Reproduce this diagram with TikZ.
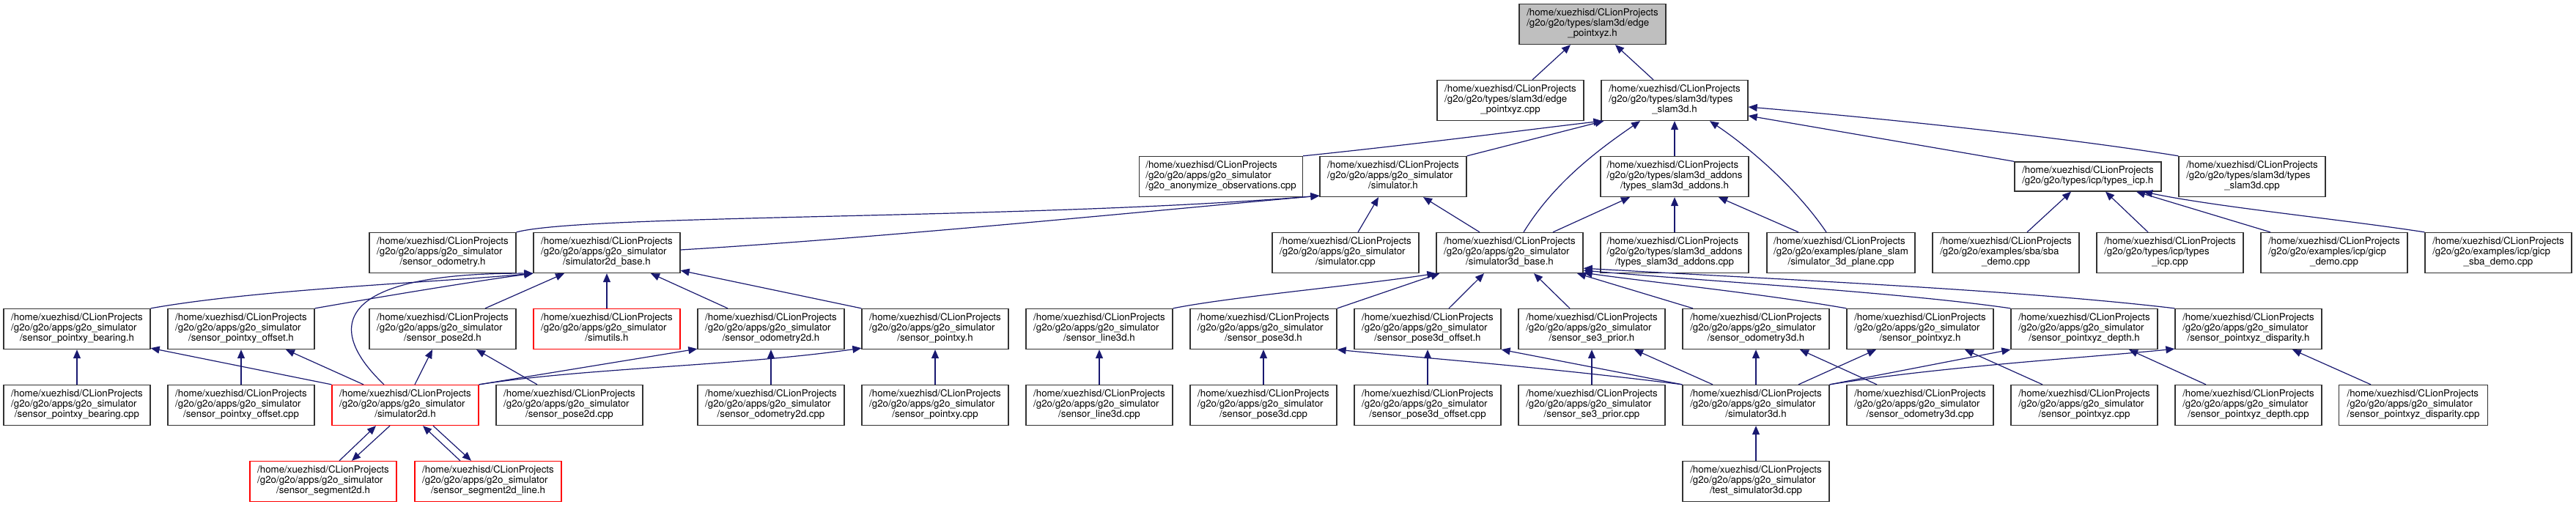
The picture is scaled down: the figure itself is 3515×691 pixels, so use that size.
\documentclass[tikz,border=0pt]{standalone}
\usepackage{fontspec}
\setmainfont{TeX Gyre Heros}
\usetikzlibrary{arrows.meta}
\definecolor{edgecol}{HTML}{191970}
\definecolor{bordercol}{HTML}{333333}
\definecolor{topfill}{HTML}{BFBFBF}
\definecolor{redb}{HTML}{FF0000}
\newcommand{\hmp}{/home/xuezhisd/CLionProjects}
\newcommand{\gsim}{/g2o/g2o/apps/g2o\_simulator}
\newcommand{\threel}[3]{\begin{tabular}{@{}l@{}}#1\\#2\\\multicolumn{1}{@{}c@{}}{#3}\end{tabular}}
\newcommand{\twol}[2]{\begin{tabular}{@{}l@{}}#1\\#2\end{tabular}}
\newcommand{\simlabel}[1]{\threel{\hmp}{\gsim}{#1}}
\begin{document}
\begin{tikzpicture}[x=1pt,y=-1pt,
  box/.style={draw=bordercol, line width=1.3pt, fill=white, minimum width=200pt,
    minimum height=55pt, inner sep=0pt, font=\fontsize{13.3}{14}\selectfont},
  rbox/.style={box, draw=redb},
  topbox/.style={box, fill=topfill},
  dep/.style={draw=edgecol, line width=1.2pt, -{Triangle[length=12pt,width=10pt]}}]
\path[use as bounding box] (0,0) rectangle (3515,691);
% row 0
\node[topbox] (n0) at (2173,33) {\threel{\hmp}{/g2o/g2o/types/slam3d/edge}{\_pointxyz.h}};
% row 1
\node[box] (ecpp) at (2061,137) {\threel{\hmp}{/g2o/g2o/types/slam3d/edge}{\_pointxyz.cpp}};
\node[box] (t3h) at (2285,137) {\threel{\hmp}{/g2o/g2o/types/slam3d/types}{\_slam3d.h}};
% row 2
\node[box, minimum width=223pt] (anon) at (1666,241) {\simlabel{/g2o\_anonymize\_observations.cpp}};
\node[box] (sim) at (1901,241) {\simlabel{/simulator.h}};
\node[box, minimum width=202pt] (tah) at (2285,241) {\threel{\hmp}{/g2o/g2o/types/slam3d\_addons}{/types\_slam3d\_addons.h}};
\node[box, minimum height=40pt] (icph) at (2849,241) {\twol{\hmp}{/g2o/g2o/types/icp/types\_icp.h}};
\node[box] (t3cpp) at (3073,241) {\threel{\hmp}{/g2o/g2o/types/slam3d/types}{\_slam3d.cpp}};
% row 3
\node[box] (sodo) at (604,345) {\simlabel{/sensor\_odometry.h}};
\node[box] (s2b) at (828,345) {\simlabel{/simulator2d\_base.h}};
\node[box] (simcpp) at (1836,345) {\simlabel{/simulator.cpp}};
\node[box] (s3b) at (2060,345) {\simlabel{/simulator3d\_base.h}};
\node[box, minimum width=202pt] (tacpp) at (2285,345) {\threel{\hmp}{/g2o/g2o/types/slam3d\_addons}{/types\_slam3d\_addons.cpp}};
\node[box, minimum width=202pt] (plane) at (2512,345) {\threel{\hmp}{/g2o/g2o/examples/plane\_slam}{/simulator\_3d\_plane.cpp}};
\node[box] (sba) at (2737,345) {\threel{\hmp}{/g2o/g2o/examples/sba/sba}{\_demo.cpp}};
\node[box] (icpcpp) at (2961,345) {\threel{\hmp}{/g2o/g2o/types/icp/types}{\_icp.cpp}};
\node[box] (gicp) at (3185,345) {\threel{\hmp}{/g2o/g2o/examples/icp/gicp}{\_demo.cpp}};
\node[box] (gsba) at (3409,345) {\threel{\hmp}{/g2o/g2o/examples/icp/gicp}{\_sba\_demo.cpp}};
% row 4
\node[box] (bearh) at (105,449) {\simlabel{/sensor\_pointxy\_bearing.h}};
\node[box] (offh) at (329,449) {\simlabel{/sensor\_pointxy\_offset.h}};
\node[box] (pose2h) at (604,449) {\simlabel{/sensor\_pose2d.h}};
\node[rbox] (simu) at (828,449) {\simlabel{/simutils.h}};
\node[box] (odo2h) at (1052,449) {\simlabel{/sensor\_odometry2d.h}};
\node[box] (pxyh) at (1276,449) {\simlabel{/sensor\_pointxy.h}};
\node[box] (l3h) at (1500,449) {\simlabel{/sensor\_line3d.h}};
\node[box] (p3h) at (1724,449) {\simlabel{/sensor\_pose3d.h}};
\node[box] (p3oh) at (1948,449) {\simlabel{/sensor\_pose3d\_offset.h}};
\node[box] (se3h) at (2172,449) {\simlabel{/sensor\_se3\_prior.h}};
\node[box] (o3h) at (2396,449) {\simlabel{/sensor\_odometry3d.h}};
\node[box] (pxyzh) at (2620,449) {\simlabel{/sensor\_pointxyz.h}};
\node[box] (deph) at (2844,449) {\simlabel{/sensor\_pointxyz\_depth.h}};
\node[box] (disph) at (3068,449) {\simlabel{/sensor\_pointxyz\_disparity.h}};
% row 5
\node[box] (bearc) at (105,553) {\simlabel{/sensor\_pointxy\_bearing.cpp}};
\node[box] (offc) at (329,553) {\simlabel{/sensor\_pointxy\_offset.cpp}};
\node[rbox] (s2d) at (553,553) {\simlabel{/simulator2d.h}};
\node[box] (pose2c) at (777,553) {\simlabel{/sensor\_pose2d.cpp}};
\node[box] (odo2c) at (1052,553) {\simlabel{/sensor\_odometry2d.cpp}};
\node[box] (pxyc) at (1276,553) {\simlabel{/sensor\_pointxy.cpp}};
\node[box] (l3c) at (1500,553) {\simlabel{/sensor\_line3d.cpp}};
\node[box] (p3c) at (1724,553) {\simlabel{/sensor\_pose3d.cpp}};
\node[box] (p3oc) at (1948,553) {\simlabel{/sensor\_pose3d\_offset.cpp}};
\node[box] (se3c) at (2172,553) {\simlabel{/sensor\_se3\_prior.cpp}};
\node[box] (s3d) at (2396,553) {\simlabel{/simulator3d.h}};
\node[box] (o3c) at (2620,553) {\simlabel{/sensor\_odometry3d.cpp}};
\node[box] (pxyzc) at (2844,553) {\simlabel{/sensor\_pointxyz.cpp}};
\node[box] (depc) at (3068,553) {\simlabel{/sensor\_pointxyz\_depth.cpp}};
\node[box, minimum width=203pt] (dispc) at (3293,553) {\simlabel{/sensor\_pointxyz\_disparity.cpp}};
% row 6
\node[rbox] (seg) at (441,657) {\simlabel{/sensor\_segment2d.h}};
\node[rbox] (segl) at (666,657) {\simlabel{/sensor\_segment2d\_line.h}};
\node[box] (test) at (2396,657) {\simlabel{/test\_simulator3d.cpp}};

% ---- edges ----
\draw[dep] ([xshift=30pt]ecpp.north) -- ([xshift=-30pt]n0.south);
\draw[dep] ([xshift=-29pt]t3h.north) -- ([xshift=31pt]n0.south);
\draw[dep] (anon.north east) .. controls (1950,195) and (2100,175) .. ([xshift=2pt]t3h.south west);
\draw[dep] (sim.north east) -- ([xshift=4pt]t3h.south west);
\draw[dep] ([xshift=19pt]s3b.north) .. controls (2120,250) and (2180,205) .. ([xshift=-47pt]t3h.south);
\draw[dep] (tah.north) -- (t3h.south);
\draw[dep] ([xshift=-20pt]plane.north) .. controls (2450,255) and (2385,200) .. ([xshift=48pt]t3h.south);
\draw[dep] (icph.north west) -- ([yshift=-21pt]t3h.east);
\draw[dep] (t3cpp.north west) .. controls (2800,185) and (2550,160) .. ([yshift=-9pt]t3h.east);
\draw[dep] ([xshift=17pt]simcpp.north) -- ([xshift=-20pt]sim.south);
\draw[dep] ([xshift=-41pt]s3b.north) -- ([xshift=41pt]sim.south);
\draw[dep] (sodo.north east) .. controls (800,292) and (1400,300) .. ([yshift=2pt]sim.south west);
\draw[dep] ([yshift=4pt]s2b.east) .. controls (1200,325) and (1600,285) .. ([yshift=2pt]sim.south west);
\draw[dep] (tacpp.north) -- (tah.south);
\draw[dep] ([xshift=59pt]s3b.north) -- ([xshift=-61pt]tah.south);
\draw[dep] ([xshift=-58pt]plane.north) -- ([xshift=60pt]tah.south);
\draw[dep] ([xshift=29pt]sba.north) -- ([xshift=-23pt]icph.south);
\draw[dep] ([xshift=-30pt]icpcpp.north) -- ([xshift=24pt]icph.south);
\draw[dep] ([xshift=-87pt]gicp.north) -- ([xshift=66pt]icph.south);
\draw[dep] (gsba.north west) .. controls (3200,300) and (3020,282) .. ([xshift=76pt]icph.south);
% into simulator2d_base.h
\draw[dep] (bearh.north east) .. controls (350,395) and (600,385) .. (s2b.south west);
\draw[dep] (offh.north east) .. controls (520,405) and (640,385) .. (s2b.south west);
\draw[dep] ([xshift=-29pt]s2d.north) .. controls (440,445) and (460,372) .. (s2b.south west);
\draw[dep] ([xshift=58pt]pose2h.north) -- ([xshift=-58pt]s2b.south);
\draw[dep] (simu.north) -- (s2b.south);
\draw[dep] ([xshift=-59pt]odo2h.north) -- ([xshift=60pt]s2b.south);
\draw[dep] (pxyh.north west) -- ([yshift=4pt]s2b.south east);
% from simulator2d.h
\draw[dep] (s2d.north west) -- ([yshift=2pt]bearh.south east);
\draw[dep] ([xshift=-57pt]s2d.north) -- ([xshift=61pt]offh.south);
\draw[dep] ([xshift=13pt]s2d.north) -- ([xshift=-14pt]pose2h.south);
\draw[dep] (s2d.north east) -- ([yshift=1pt]odo2h.south west);
\draw[dep] (s2d.north east) .. controls (800,502) and (1000,500) .. ([yshift=2pt]pxyh.south west);
\draw[dep] ([xshift=22pt]seg.north) -- ([xshift=-40pt]s2d.south);
\draw[dep] ([xshift=-21pt]s2d.south) -- ([xshift=39pt]seg.north);
\draw[dep] ([xshift=-38pt]segl.north) -- ([xshift=24pt]s2d.south);
\draw[dep] ([xshift=38pt]s2d.south) -- ([xshift=-23pt]segl.north);
% cpp to headers
\draw[dep] (bearc.north) -- (bearh.south);
\draw[dep] (offc.north) -- (offh.south);
\draw[dep] ([xshift=-44pt]pose2c.north) -- ([xshift=46pt]pose2h.south);
\draw[dep] (odo2c.north) -- (odo2h.south);
\draw[dep] (pxyc.north) -- (pxyh.south);
\draw[dep] (l3c.north) -- (l3h.south);
\draw[dep] (p3c.north) -- (p3h.south);
\draw[dep] (p3oc.north) -- (p3oh.south);
\draw[dep] (se3c.north) -- (se3h.south);
\draw[dep] ([xshift=-59pt]o3c.north) -- ([xshift=60pt]o3h.south);
\draw[dep] ([xshift=-57pt]pxyzc.north) -- ([xshift=61pt]pxyzh.south);
\draw[dep] ([xshift=-58pt]depc.north) -- ([xshift=61pt]deph.south);
\draw[dep] ([xshift=-58pt]dispc.north) -- ([xshift=60pt]disph.south);
% into simulator3d_base.h
\draw[dep] (l3h.north east) .. controls (1680,405) and (1850,390) .. (s3b.south west);
\draw[dep] (p3h.north east) -- ([xshift=5pt]s3b.south west);
\draw[dep] ([xshift=29pt]p3oh.north) -- ([xshift=-35pt]s3b.south);
\draw[dep] ([xshift=-30pt]se3h.north) -- ([xshift=33pt]s3b.south);
\draw[dep] ([xshift=-86pt]o3h.north) -- ([xshift=92pt]s3b.south);
\draw[dep] (pxyzh.north west) .. controls (2400,400) and (2250,385) .. ([yshift=1pt]s3b.south east);
\draw[dep] (deph.north west) .. controls (2600,400) and (2350,385) .. ([yshift=4pt]s3b.south east);
\draw[dep] (disph.north west) .. controls (2750,395) and (2400,380) .. ([yshift=7pt]s3b.south east);
% from simulator3d.h
\draw[dep] (s3d.north west) .. controls (2100,500) and (1900,485) .. (p3h.south east);
\draw[dep] (s3d.north west) -- (p3oh.south east);
\draw[dep] ([xshift=-59pt]s3d.north) -- ([xshift=58pt]se3h.south);
\draw[dep] (s3d.north) -- (o3h.south);
\draw[dep] ([xshift=58pt]s3d.north) -- ([xshift=-60pt]pxyzh.south);
\draw[dep] (s3d.north east) -- (deph.south west);
\draw[dep] (s3d.north east) .. controls (2650,500) and (2850,488) .. ([yshift=1pt]disph.south west);
\draw[dep] (test.north) -- (s3d.south);
\end{tikzpicture}
\end{document}
